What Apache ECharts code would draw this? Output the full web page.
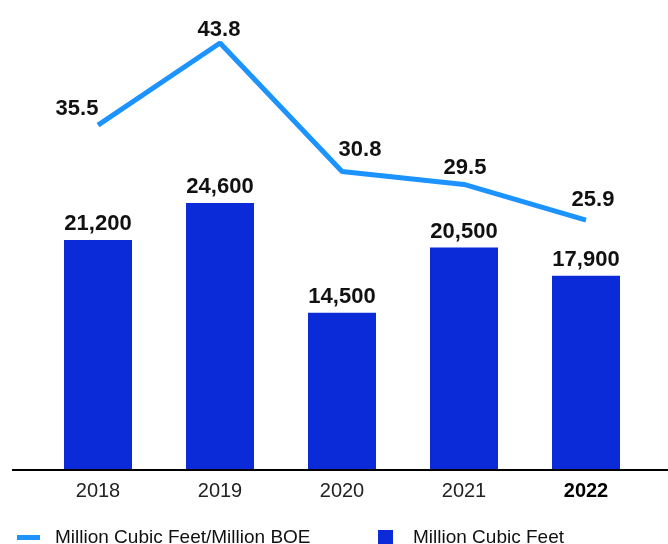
<!DOCTYPE html>
<html>
<head>
<meta charset="utf-8">
<script src="https://cdn.jsdelivr.net/npm/echarts@6/dist/echarts.min.js"></script>
<style>
html,body{margin:0;padding:0;background:#fff;}
#chart{width:668px;height:544px;}
</style>
</head>
<body>
<div id="chart"></div>
<script>
const categories = ['2018', '2019', '2020', '2021', '2022'];
const volumeValues = [21200, 24600, 14500, 20500, 17900];
const intensityValues = [35.5, 43.8, 30.8, 29.5, 25.9];
const seriesNames = ['Million Cubic Feet/Million BOE', 'Million Cubic Feet'];

const lineLabelOffsets = [[-21, -5], [-1, -2], [18, -11], [1, -5], [7, -9]];
const FONT = 'Liberation Sans, Arial, sans-serif';
const BAR_COLOR = '#0b2ad8';
const LINE_COLOR = '#1c93ff';

const chart = echarts.init(document.getElementById('chart'), null, {renderer: 'canvas'});
const option = {
  animation: false,
  backgroundColor: '#ffffff',
  textStyle: {fontFamily: FONT},
  grid: {left: 37, right: 21, top: 10, bottom: 74, containLabel: false},
  legend: [
    {
      data: [seriesNames[0]],
      left: 12, top: 523,
      icon: 'rect', itemWidth: 23, itemHeight: 5,
      textStyle: {fontFamily: FONT, fontSize: 19, color: '#111', padding: [0, 0, 0, 10]}
    },
    {
      data: [seriesNames[1]],
      left: 373, top: 523,
      icon: 'rect', itemWidth: 15, itemHeight: 15,
      textStyle: {fontFamily: FONT, fontSize: 19, color: '#111', padding: [0, 0, 0, 15]}
    }
  ],
  xAxis: {
    type: 'category',
    data: categories.map((c, i) => i === categories.length - 1
      ? {value: c, textStyle: {fontWeight: 'bold', color: '#000'}}
      : c),
    axisLine: {show: false},
    axisTick: {show: false},
    axisLabel: {fontFamily: FONT, fontSize: 20, color: '#222', margin: 11}
  },
  yAxis: [
    {type: 'value', min: 0, max: 42400, show: false, splitLine: {show: false}},
    {type: 'value', min: 0.62, max: 47.14, show: false, splitLine: {show: false}}
  ],
  graphic: [{
    type: 'line',
    shape: {x1: 12, y1: 470, x2: 668, y2: 470},
    style: {stroke: '#000', lineWidth: 2},
    z: 10
  }],
  series: [
    {
      name: seriesNames[1],
      type: 'bar',
      yAxisIndex: 0,
      barWidth: 68,
      itemStyle: {color: BAR_COLOR},
      data: volumeValues,
      label: {
        show: true, position: 'top', distance: 5,
        fontFamily: FONT, fontSize: 22, fontWeight: 'bold', color: '#111',
        formatter: p => p.value.toLocaleString('en-US')
      }
    },
    {
      name: seriesNames[0],
      type: 'line',
      yAxisIndex: 1,
      symbol: 'circle',
      symbolSize: 0,
      showSymbol: true,
      lineStyle: {color: LINE_COLOR, width: 5},
      itemStyle: {color: LINE_COLOR},
      data: intensityValues.map((v, i) => ({
        value: v,
        label: {offset: lineLabelOffsets[i]}
      })),
      label: {
        show: true, position: 'top', distance: 0,
        fontFamily: FONT, fontSize: 22, fontWeight: 'bold', color: '#111',
        formatter: p => p.value.toFixed(1)
      }
    }
  ]
};
chart.setOption(option);
</script>
</body>
</html>
